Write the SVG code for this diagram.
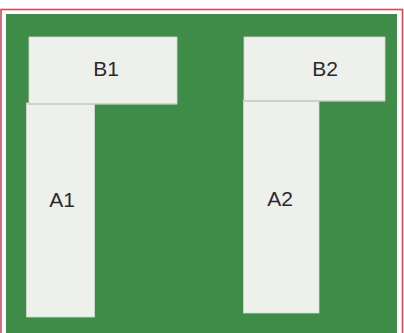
<svg xmlns="http://www.w3.org/2000/svg" width="404" height="333" viewBox="0 0 404 333">
<style>
.paper{fill:#eef0eb;stroke:#d6d8d2;stroke-width:0.8}
.lbl{font-family:"Liberation Sans",Arial,sans-serif;font-size:21px;fill:#2a2a2e;text-anchor:middle}
.seam{stroke:#b9bbb4;stroke-width:1.2;fill:none}
</style>
<rect x="0" y="0" width="404" height="333" fill="#ffffff"/>
<rect x="1" y="9.5" width="401.5" height="330" fill="none" stroke="#d24a5a" stroke-width="1.6"/>
<rect x="6" y="14" width="391" height="319" fill="#3e8c47"/>
<g id="A1">
<rect class="paper" x="26.5" y="103" width="68" height="214"/>
<text class="lbl" x="62" y="207">A1</text>
</g>
<g id="B1">
<rect class="paper" x="29" y="37" width="148" height="67"/>
<line class="seam" x1="28" y1="104" x2="177" y2="104"/>
<text class="lbl" x="106" y="76">B1</text>
</g>
<g id="A2">
<rect class="paper" x="243.5" y="100" width="75.5" height="213"/>
<text class="lbl" x="280" y="206">A2</text>
</g>
<g id="B2">
<rect class="paper" x="244" y="37" width="141" height="64"/>
<line class="seam" x1="244" y1="101" x2="385" y2="101"/>
<text class="lbl" x="325" y="76">B2</text>
</g>
<g id="connectors"/>
</svg>
